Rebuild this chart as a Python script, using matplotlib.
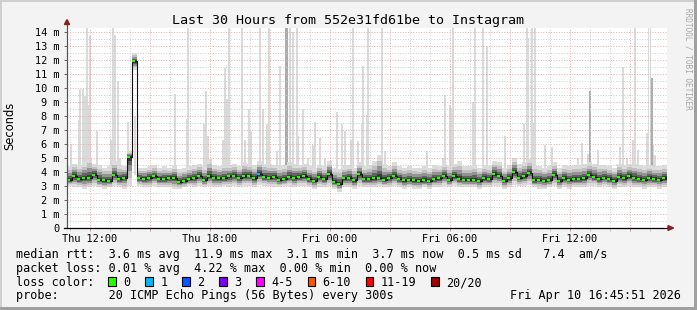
import matplotlib
matplotlib.use("Agg")
import matplotlib.pyplot as plt
from matplotlib.patches import Rectangle, Polygon

plt.rcParams['font.family'] = ['DejaVu Sans Mono']

# ---------------- data ----------------
title = "Last 30 Hours from 552e31fd61be to Instagram"
y_label = "Seconds"
x_tick_labels = ["Thu 12:00", "Thu 18:00", "Fri 00:00", "Fri 06:00", "Fri 12:00"]
first_label_hour = 1.15          # hours after the window start where "Thu 12:00" sits
window_hours = 30
slot_hours = 0.25

# median rtt (ms) per 15 min slot
median_ms = [
    3.4, 3.7, 3.5, 3.55, 3.6, 3.8, 3.45, 3.4, 3.35, 3.8, 3.5, 3.6, 5.1, 11.9, 3.55, 3.5, 3.6, 3.7, 3.5, 3.5,
    3.6, 3.55, 3.3, 3.35, 3.5, 3.6, 3.75, 3.45, 3.7, 3.6, 3.55, 3.55, 3.7, 3.75, 3.6, 3.7, 3.75, 3.55, 3.85, 3.65,
    3.6, 3.65, 3.45, 3.5, 3.65, 3.6, 3.65, 3.7, 3.5, 3.35, 3.65, 3.5, 3.85, 3.3, 3.15, 3.55, 3.6, 3.4, 3.85, 3.5,
    3.5, 3.55, 3.6, 3.45, 3.6, 3.75, 3.5, 3.4, 3.45, 3.4, 3.35, 3.4, 3.35, 3.5, 3.55, 3.75, 3.45, 3.7, 3.5, 3.45,
    3.45, 3.45, 3.35, 3.55, 3.5, 3.85, 3.75, 3.35, 3.55, 4.0, 3.6, 3.7, 3.95, 3.4, 3.45, 3.35, 3.45, 3.8, 3.35, 3.55,
    3.45, 3.5, 3.5, 3.55, 3.8, 3.65, 3.5, 3.6, 3.5, 3.35, 3.65, 3.55, 3.7, 3.6, 3.5, 3.45, 3.6, 3.5, 3.45, 3.55]

# lowest ping (ms) per slot
low_ms = [
    3.0, 2.9, 2.9, 2.8, 2.9, 3.0, 2.9, 2.8, 2.9, 3.0, 2.9, 2.8, 3.0, 11.3, 3.0, 2.9, 2.9, 3.0, 2.9, 2.9,
    2.9, 2.8, 2.8, 2.9, 3.0, 2.9, 3.0, 2.9, 3.0, 2.9, 2.9, 3.0, 2.9, 3.0, 2.9, 3.0, 3.0, 2.9, 3.1, 3.0,
    3.0, 2.9, 2.9, 3.0, 3.0, 2.9, 3.0, 3.0, 2.9, 2.8, 2.9, 2.9, 3.0, 2.8, 2.6, 2.9, 2.9, 2.8, 3.0, 2.9,
    2.9, 2.9, 3.0, 2.9, 2.9, 3.0, 2.9, 2.8, 2.9, 2.8, 2.8, 2.9, 2.8, 2.9, 2.9, 3.0, 2.9, 3.0, 2.9, 2.9,
    2.9, 2.9, 2.8, 2.9, 2.9, 3.0, 3.0, 2.8, 2.9, 3.1, 3.0, 3.0, 3.1, 2.9, 2.8, 2.8, 2.9, 3.0, 2.8, 2.9,
    2.8, 2.9, 2.9, 2.9, 3.0, 3.0, 2.9, 3.0, 2.9, 2.8, 2.9, 2.9, 3.0, 2.9, 2.9, 2.8, 2.9, 2.9, 2.8, 2.9]

# typical highest ping (ms) per slot (isolated spikes listed separately)
high_ms = [
    4.4, 4.6, 4.5, 4.7, 5.0, 4.6, 4.5, 4.3, 4.4, 4.8, 4.5, 4.4, 5.5, 12.5, 4.3, 4.3, 4.4, 4.5, 4.3, 4.4,
    4.3, 4.5, 4.2, 4.3, 4.4, 4.5, 4.6, 4.4, 4.9, 4.5, 4.4, 4.6, 4.5, 4.6, 4.4, 4.7, 4.6, 4.5, 4.8, 4.6,
    4.6, 4.5, 4.4, 4.5, 4.7, 4.6, 4.5, 4.6, 4.4, 4.3, 4.5, 4.4, 4.8, 4.3, 4.2, 4.4, 4.5, 4.3, 4.7, 4.4,
    4.5, 4.8, 5.2, 4.6, 4.4, 4.7, 4.4, 4.3, 4.4, 4.3, 4.3, 4.4, 4.3, 4.5, 4.4, 4.6, 4.4, 4.6, 4.8, 4.4,
    4.4, 4.5, 4.3, 4.5, 4.4, 4.8, 4.7, 4.3, 4.5, 5.0, 4.6, 4.7, 4.9, 4.5, 4.4, 4.3, 4.4, 4.7, 4.3, 4.5,
    4.4, 4.5, 4.5, 4.6, 4.7, 4.6, 4.5, 4.5, 4.4, 4.3, 4.6, 4.5, 4.6, 4.6, 4.5, 4.4, 4.5, 4.4, 4.4, 4.5]

# slots with packet loss and their lost-ping count
loss_slots = [38]
loss_counts = [1]

# isolated high pings (light smoke spikes): hour in window, top (ms)
spike_hours = [
    0.20, 0.60, 0.65, 0.80, 0.90, 0.985, 1.065, 1.15, 1.485, 2.20, 2.315, 2.40, 2.565, 2.65, 3.065, 3.40,
    5.40, 5.985, 6.065, 6.865, 6.95, 7.065, 7.815, 7.90, 7.985, 8.10, 8.735, 8.90, 9.115, 9.20, 9.65, 9.80, 10.115,
    10.0, 10.485, 10.65, 11.15, 11.315, 11.485, 11.565, 11.815, 12.065, 12.315, 12.40, 12.65, 12.90, 13.485,
    13.735, 13.90, 14.20, 14.285, 14.55, 14.735, 14.815, 15.0, 15.065, 15.735, 15.90, 17.985, 18.815, 18.90,
    19.15, 19.25, 19.315, 20.315, 20.40, 20.815, 20.985, 21.90, 22.85, 22.985, 23.05, 23.235, 23.315, 23.40,
    23.90, 24.235, 25.565, 25.735, 26.065, 26.565, 27.65, 27.815, 27.985, 28.315, 28.40, 28.565, 28.985,
    29.075, 29.175, 29.315, 29.40]
spike_tops = [
    6.0, 7.7, 9.9, 9.95, 9.4, 14.3, 8.8, 13.8, 6.9, 6.3, 14.3, 13.8, 10.5, 5.0, 7.6, 8.0,
    9.6, 7.8, 14.3, 7.4, 9.8, 6.6, 6.3, 11.4, 9.2, 14.3, 14.3, 6.3, 8.5, 6.9, 14.3, 8.5, 14.3,
    7.4, 5.5, 11.6, 14.3, 14.0, 14.3, 6.6, 8.5, 5.0, 5.9, 7.6, 6.4, 5.0, 8.3,
    7.4, 6.9, 6.3, 14.3, 6.2, 7.4, 11.6, 8.1, 14.3, 14.3, 5.5, 5.5, 5.0, 9.5,
    8.8, 8.55, 14.3, 9.0, 14.3, 14.3, 13.0, 6.6, 7.4, 14.3, 13.6, 14.3, 7.5, 14.3,
    5.9, 5.8, 5.0, 6.05, 5.3, 5.6, 5.8, 11.5, 5.0, 6.3, 14.3, 5.6, 6.8,
    14.3, 14.3, 5.9, 5.2]
# darker (denser) spikes
dark_spike_hours = [10.95, 11.0, 26.15, 29.25]
dark_spike_tops = [14.3, 14.3, 9.8, 10.7]

loss_labels = ["0", "1", "2", "3", "4-5", "6-10", "11-19", "20/20"]
loss_colors = ["#26ff00", "#00b8ff", "#0059ff", "#7e00ff", "#ff00ff", "#ff5500", "#ff0000", "#a10000"]

stats_line1 = "median rtt:  3.6 ms avg  11.9 ms max  3.1 ms min  3.7 ms now  0.5 ms sd   7.4  am/s"
stats_line2 = "packet loss: 0.01 % avg  4.22 % max  0.00 % min  0.00 % now"
loss_title = "loss color:"
probe_line = "probe:       20 ICMP Echo Pings (56 Bytes) every 300s"
stamp = "Fri Apr 10 16:45:51 2026"
watermark = "RRDTOOL / TOBI OETIKER"

# ---------------- figure ----------------
W, H = 697, 310
fig = plt.figure(figsize=(W / 100, H / 100), dpi=100)
fig.patch.set_facecolor("#f3f3f3")


def fx(px):
    return px / W


def fy(py):
    return 1 - py / H


ax = fig.add_axes([fx(67), fy(228), 600 / W, 200 / H])
ymax = 200 / 14
ax.set_xlim(0, window_hours)
ax.set_ylim(0, ymax)
ax.set_facecolor("white")
for s in ax.spines.values():
    s.set_visible(False)

slots = [i * slot_hours for i in range(len(median_ms))]

# spikes
ax.bar(spike_hours, [t - 3.8 for t in spike_tops], bottom=3.8, width=0.09, align="center",
       color="#dadada", linewidth=0, zorder=1.0)
ax.bar(dark_spike_hours, [t - 3.8 for t in dark_spike_tops], bottom=3.8, width=0.07, align="center",
       color="#ababab", linewidth=0, zorder=1.05)

# smoke band
fracs = [1.0, 0.72, 0.5, 0.3, 0.14]
shades = ["#dcdcdc", "#c0c0c0", "#939393", "#626262", "#363636"]
for k, (f, c) in enumerate(zip(fracs, shades)):
    bots = [m - f * (m - lo) for m, lo in zip(median_ms, low_ms)]
    tops = [m + f * (hi - m) for m, hi in zip(median_ms, high_ms)]
    ax.bar(slots, [t - b for t, b in zip(tops, bots)], bottom=bots, width=slot_hours,
           align="edge", color=c, linewidth=0, zorder=1.2 + 0.1 * k)

# grid
major_hours = []
h = first_label_hour
while h - 3 > 0:
    h -= 3
while h < window_hours:
    major_hours.append(round(h, 3))
    h += 3
minor_hours = []
h = first_label_hour
while h - 1 > 0:
    h -= 1
while h < window_hours:
    if all(abs(h - mh) > 1e-6 for mh in major_hours):
        minor_hours.append(round(h, 3))
    h += 1
dot = (0, (1, 1.6))
for mh in minor_hours:
    ax.axvline(mh, color="#cfcfcf", lw=0.72, ls=dot, zorder=1.25)
for mh in major_hours:
    ax.axvline(mh, color="#f3aaaa", lw=0.72, ls=dot, zorder=1.26)
for v in range(0, 29):
    yv = v / 2
    if yv == 0 or yv > ymax:
        continue
    if v % 2 == 0:
        ax.axhline(yv, color="#f3aaaa", lw=0.72, ls=dot, zorder=1.26)
    else:
        ax.axhline(yv, color="#cfcfcf", lw=0.72, ls=dot, zorder=1.25)

# median line
ax.step(slots + [window_hours], median_ms + [median_ms[-1]], where="post",
        color="#111111", lw=0.8, zorder=4)
seg_colors = []
for i in range(len(median_ms)):
    c = loss_colors[0]
    if i in loss_slots:
        c = loss_colors[loss_counts[loss_slots.index(i)]]
    seg_colors.append(c)
ax.hlines(median_ms, [s + 0.02 for s in slots], [s + 0.17 for s in slots], colors=seg_colors,
          lw=1.6, zorder=5)

# ticks
ax.set_yticks(range(0, 15))
ax.set_yticklabels(["0" if v == 0 else f"{v} m" for v in range(0, 15)])
ax.tick_params(axis="y", length=2.5, width=0.7, color="#666666", pad=3, labelsize=7.4)
label_hours = [first_label_hour + 6 * k for k in range(len(x_tick_labels))]
ax.set_xticks(major_hours)
lbls = []
for mh in major_hours:
    lab = ""
    for lh, lt in zip(label_hours, x_tick_labels):
        if abs(lh - mh) < 1e-6:
            lab = lt
    lbls.append(lab)
ax.set_xticklabels(lbls)
ax.set_xticks(minor_hours, minor=True)
ax.tick_params(axis="x", which="major", length=2.5, width=0.7, color="#f08080", pad=2, labelsize=7.4)
ax.tick_params(axis="x", which="minor", length=2.5, width=0.7, color="#c0c0c0")

# axes lines + arrows
ax.plot([0, 0], [0, ymax + 0.3], color="#555555", lw=0.9, clip_on=False, zorder=6)
ax.plot([-0.15, window_hours + 0.1], [0, 0], color="#000000", lw=0.9, clip_on=False, zorder=6)
ax.add_patch(Polygon([(-0.13, ymax + 0.25), (0.13, ymax + 0.25), (0, ymax + 0.6)], closed=True,
                     color="#8a1f1f", clip_on=False, zorder=7))
ax.add_patch(Polygon([(window_hours + 0.05, -0.17), (window_hours + 0.05, 0.17), (window_hours + 0.33, 0)],
                     closed=True, color="#8a1f1f", clip_on=False, zorder=7))

# texts
fig.text(fx(348), fy(24), title, ha="center", va="baseline", fontsize=9.6, color="#000000")
fig.text(fx(10), fy(126), y_label, rotation=90, ha="center", va="center", fontsize=8.3,
         family=["DejaVu Sans"])
fig.text(fx(688), fy(59), watermark, rotation=270, ha="center", va="center", fontsize=5.6,
         color="#a8a8a8")

char_w = 7.11
x0 = 16
fs = 8.5
fig.text(fx(x0), fy(258.3), stats_line1, ha="left", va="baseline", fontsize=fs)
fig.text(fx(x0), fy(272), stats_line2, ha="left", va="baseline", fontsize=fs)
fig.text(fx(x0), fy(286), loss_title, ha="left", va="baseline", fontsize=fs)
col = 13.0
for lab, c in zip(loss_labels, loss_colors):
    bx = x0 + col * char_w
    fig.add_artist(Rectangle((fx(bx), fy(286)), 7.5 / W, 9.0 / H, transform=fig.transFigure,
                             facecolor=c, edgecolor="#000000", lw=0.8))
    fig.text(fx(bx + 15), fy(286), lab, ha="left", va="baseline", fontsize=fs)
    col += len(lab) + 4.2
fig.text(fx(x0), fy(299.5), probe_line, ha="left", va="baseline", fontsize=fs)
fig.text(fx(681), fy(299.5), stamp, ha="right", va="baseline", fontsize=fs)

# frame
fig.add_artist(Rectangle((0, fy(2)), 1, 2 / H, transform=fig.transFigure, facecolor="#d0d0d0", lw=0))
fig.add_artist(Rectangle((0, 0), 2 / W, 1, transform=fig.transFigure, facecolor="#d0d0d0", lw=0))
fig.add_artist(Rectangle((0, 0), 1, 3 / H, transform=fig.transFigure, facecolor="#a0a0a0", lw=0))
fig.add_artist(Rectangle((fx(694), 0), 3 / W, 1, transform=fig.transFigure, facecolor="#a0a0a0", lw=0))

fig.savefig("out.png", dpi=100, facecolor=fig.get_facecolor())
